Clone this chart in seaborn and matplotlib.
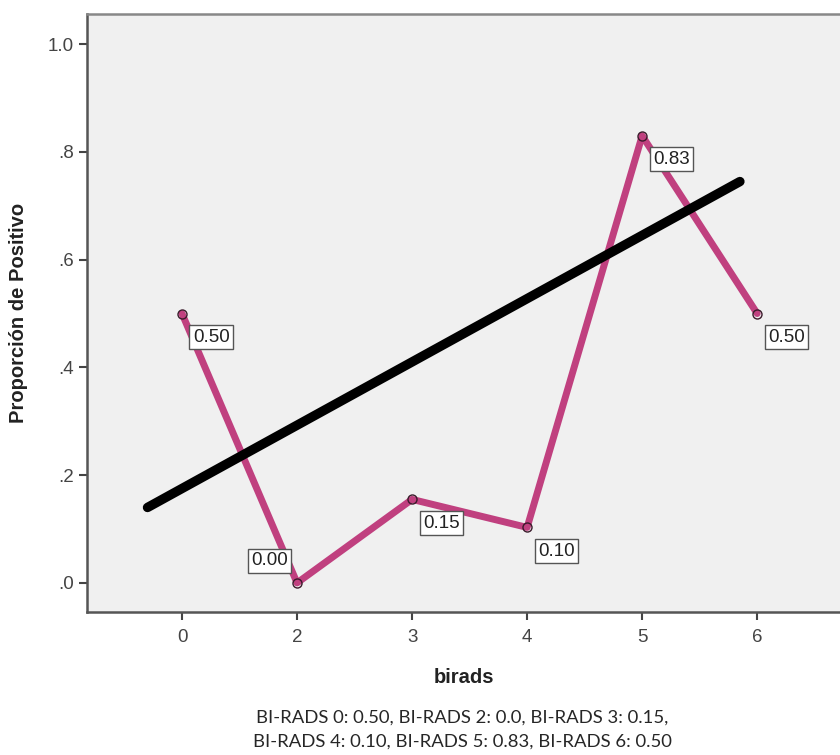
import numpy as np
import pandas as pd
import seaborn as sns
import matplotlib.pyplot as plt

# categories on the x axis and the proportion of positives for each
birads = ["0", "2", "3", "4", "5", "6"]
proporcion = [0.50, 0.00, 0.155, 0.103, 0.83, 0.50]
etiquetas = ["0.50", "0.00", "0.15", "0.10", "0.83", "0.50"]

# straight black trend line (ends at index positions)
trend_x = [-0.30, 4.85]
trend_y = [0.14, 0.745]

y_ticks = [0.0, 0.2, 0.4, 0.6, 0.8, 1.0]
y_ticklabels = [".0", ".2", ".4", ".6", ".8", "1.0"]

sns.set_style("white")
plt.rcParams["font.family"] = ["Liberation Sans", "DejaVu Sans"]

df = pd.DataFrame({"pos": np.arange(len(birads)), "prop": proporcion})
df_trend = pd.DataFrame({"x": trend_x, "y": trend_y})

fig = plt.figure(figsize=(8.4, 7.55), dpi=100)
ax = fig.add_axes([87 / 840, (755 - 612) / 755, 1 - 87 / 840, 598 / 755])
ax.set_facecolor("#f0f0f0")

sns.lineplot(data=df, x="pos", y="prop", ax=ax, color="#c0407f", linewidth=5,
             marker="o", markersize=6.5, markerfacecolor="none",
             markeredgecolor="#3a1a2a", markeredgewidth=1.0, zorder=3)
sns.lineplot(data=df_trend, x="x", y="y", ax=ax, color="black", linewidth=6.8, zorder=4)

# value boxes next to each point
offsets = [(21, -17), (-20, 16), (21, -17), (21, -17), (21, -17), (21, -17)]
for i, (v, lab) in enumerate(zip(proporcion, etiquetas)):
    ax.annotate(lab, xy=(i, v), xytext=offsets[i], textcoords="offset points",
                ha="center", va="center", fontsize=13.5, color="#222222", zorder=5,
                bbox=dict(boxstyle="square,pad=0.18", fc="white", ec="#555555", lw=1))

ax.set_xlim(-0.826, 5.72)
ax.set_ylim(-0.054, 1.056)
ax.set_xticks(np.arange(len(birads)))
ax.set_xticklabels(birads)
ax.set_yticks(y_ticks)
ax.set_yticklabels(y_ticklabels)
ax.tick_params(axis="both", direction="out", length=6, width=1.5, color="#444444",
               labelsize=13.5, labelcolor="#444444", left=True, bottom=True)
ax.tick_params(axis="x", pad=6)

for side in ["left", "bottom", "top"]:
    ax.spines[side].set_visible(True)
    ax.spines[side].set_color("#555555")
    ax.spines[side].set_linewidth(1.8)
ax.spines["top"].set_color("#888888")
ax.spines["right"].set_visible(False)

ax.set_xlabel("birads", fontsize=14.5, fontweight="bold", labelpad=16, color="#222222")
ax.set_ylabel("Proporción de Positivo", fontsize=14.5, fontweight="bold", labelpad=14,
              color="#222222")

fig.text(462 / 840, 1 - 718 / 755, "BI-RADS 0: 0.50, BI-RADS 2: 0.0, BI-RADS 3: 0.15,",
         ha="center", va="center", fontsize=13.3, family=["Lato", "DejaVu Sans"])
fig.text(462 / 840, 1 - 742 / 755, "BI-RADS 4: 0.10, BI-RADS 5: 0.83, BI-RADS 6: 0.50",
         ha="center", va="center", fontsize=13.3, family=["Lato", "DejaVu Sans"])

fig.savefig("out.png", dpi=100)
